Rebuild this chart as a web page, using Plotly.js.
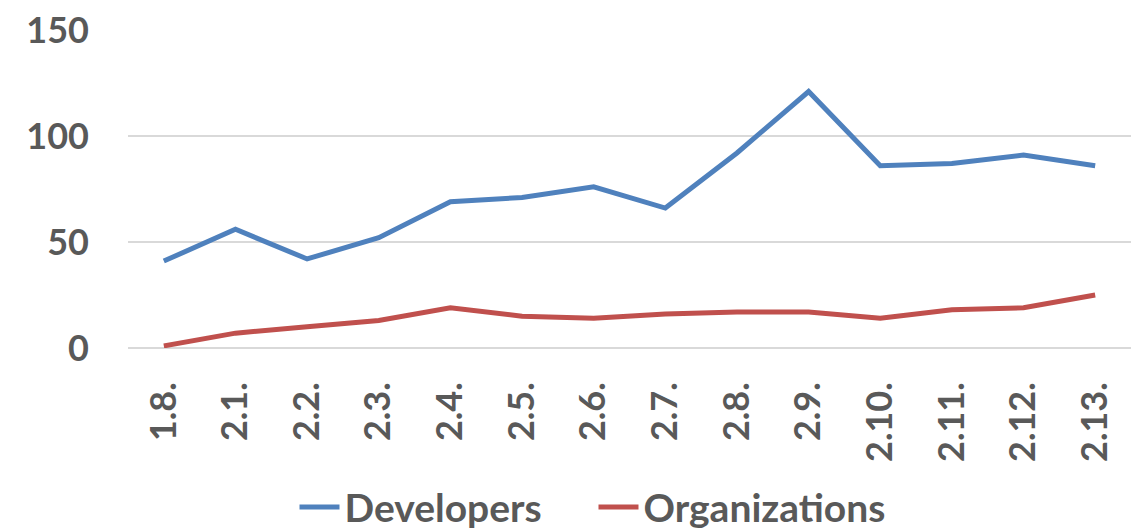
<!DOCTYPE html>
<html>
<head>
<meta charset="utf-8">
<script src="https://cdn.plot.ly/plotly-3.0.1.min.js"></script>
<style>html,body{margin:0;padding:0;background:#fff;}#chart{width:1140px;height:531px;}</style>
</head>
<body>
<div id="chart"></div>
<script>
const versions = ["1.8.", "2.1.", "2.2.", "2.3.", "2.4.", "2.5.", "2.6.", "2.7.", "2.8.", "2.9.", "2.10.", "2.11.", "2.12.", "2.13."];
const developers = [41, 56, 42, 52, 69, 71, 76, 66, 92, 121, 86, 87, 91, 86];
const organizations = [1, 7, 10, 13, 19, 15, 14, 16, 17, 17, 14, 18, 19, 25];
const yTicks = [0, 50, 100, 150];

const fontFamily = "Lato, 'Open Sans', sans-serif";
const textColor = "#595959";

const traces = [
  {x: versions, y: developers, name: "Developers", type: "scatter", mode: "lines",
   line: {color: "#4f81bd", width: 5}},
  {x: versions, y: organizations, name: "Organizations", type: "scatter", mode: "lines",
   line: {color: "#c0504d", width: 5}}
];

const layout = {
  width: 1140, height: 531,
  margin: {l: 128, r: 9, t: 30, b: 183},
  paper_bgcolor: "#fff", plot_bgcolor: "#fff",
  font: {family: fontFamily, color: textColor, size: 36, weight: "bold"},
  showlegend: true,
  legend: {orientation: "h", x: 0.166, xanchor: "left", yref: "container", y: 0.045, yanchor: "middle",
           font: {family: fontFamily, size: 39, color: textColor, weight: "bold"},
           itemwidth: 40, entrywidth: 244, entrywidthmode: "pixels", tracegroupgap: 0},
  xaxis: {type: "category", range: [-0.5, 13.5], tickangle: -90, showgrid: false, zeroline: false,
          showline: false, ticks: "", ticklabelstandoff: 26,
          tickfont: {family: fontFamily, size: 36, color: textColor, weight: "bold"}},
  yaxis: {range: [0, 150], tickvals: yTicks, ticktext: yTicks.map(String), showgrid: true,
          gridcolor: "#d9d9d9", gridwidth: 2, zeroline: true, zerolinecolor: "#d9d9d9", zerolinewidth: 2,
          showline: false, ticks: "", ticklabelstandoff: 38,
          tickfont: {family: fontFamily, size: 36, color: textColor, weight: "bold"}}
};

Plotly.newPlot("chart", traces, layout, {displayModeBar: false, staticPlot: true});
</script>
</body>
</html>
